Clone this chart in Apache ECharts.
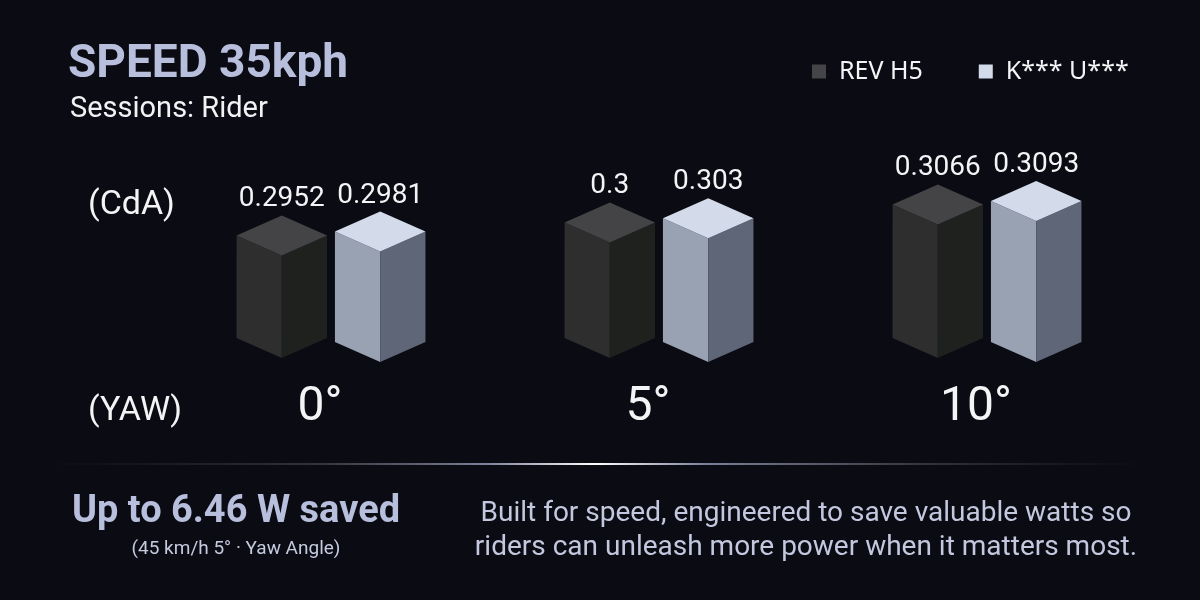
<!DOCTYPE html>
<html lang="en">
<head>
    <meta charset="utf-8">
    <title>SPEED 35kph</title>
    <script src="https://cdn.jsdelivr.net/npm/echarts@6/dist/echarts.min.js"></script>
    <style>
        html, body { margin: 0; padding: 0; background: #0a0b13; }
    </style>
</head>
<body>
<div id="main" style="width: 1200px;height:600px"></div>
<script>
    // data
    var yawLabels = ['0°', '5°', '10°'];
    var seriesNames = ['REV H5', 'K*** U***'];
    var revH5 = [0.2952, 0.3, 0.3066];
    var kU = [0.2981, 0.303, 0.3093];

    var yMin = 0.2575;
    var yMax = 0.32;

    // face colours per series: top, left, right
    var faces = [
        { top: '#444447', left: '#2e2e2f', right: '#1f211f' },
        { top: '#d3dbeb', left: '#99a2b3', right: '#5e6678' }
    ];

    function makeRender(si) {
        return function (params, api) {
            var idx = api.value(0);
            var val = api.value(1);
            var top = api.coord([idx, val]);
            var base = api.coord([idx, yMin]);
            var band = api.size([1, 0])[0];
            var off = band * 0.15;
            var hw = band * 0.138;
            var dy = 20;
            var shift = si === 1 ? 4 : 0;
            var fx = top[0] + (si === 0 ? -off : off);
            var ty = top[1] + shift;
            var by = base[1] + shift;
            var c = faces[si];
            return {
                type: 'group',
                children: [
                    {
                        type: 'polygon',
                        shape: { points: [[fx - hw, ty - dy], [fx, ty], [fx, by], [fx - hw, by - dy]] },
                        style: { fill: c.left }
                    },
                    {
                        type: 'polygon',
                        shape: { points: [[fx, ty], [fx + hw, ty - dy], [fx + hw, by - dy], [fx, by]] },
                        style: { fill: c.right }
                    },
                    {
                        type: 'polygon',
                        shape: { points: [[fx, ty - 2 * dy], [fx + hw, ty - dy], [fx, ty], [fx - hw, ty - dy]] },
                        style: { fill: c.top }
                    },
                    {
                        type: 'text',
                        style: {
                            x: fx,
                            y: ty - 2 * dy - 2,
                            text: String(val),
                            fill: '#f4f4f6',
                            font: '28px Roboto',
                            align: 'center',
                            verticalAlign: 'bottom'
                        }
                    }
                ]
            };
        };
    }

    function toData(arr) {
        return arr.map(function (v, i) { return [i, v]; });
    }

    var chart = echarts.init(document.getElementById('main'));
    var option = {
        backgroundColor: '#0a0b13',
        animation: false,
        title: [
            {
                text: 'SPEED 35kph',
                left: 63,
                top: 37,
                textStyle: { color: '#b8bfdc', fontSize: 46, fontWeight: 'bold', fontFamily: 'Roboto' }
            },
            {
                text: 'Sessions: Rider',
                left: 65,
                top: 90,
                textStyle: { color: '#f2f2f4', fontSize: 29, fontWeight: 'normal', fontFamily: 'Roboto' }
            }
        ],
        legend: {
            data: seriesNames,
            left: 807,
            top: 54,
            icon: 'rect',
            itemWidth: 14,
            itemHeight: 14,
            itemGap: 56,
            textStyle: { color: '#f4f4f6', fontSize: 25, fontFamily: 'Noto Sans', padding: [0, 0, 0, 8] }
        },
        grid: { left: 167, right: 49, top: 188, bottom: 242 },
        xAxis: {
            type: 'category',
            data: yawLabels,
            axisLine: { show: false },
            axisTick: { show: false },
            splitLine: { show: false },
            axisLabel: {
                color: '#f4f4f6',
                fontSize: 48,
                fontFamily: 'Roboto',
                margin: 26,
                padding: [0, 22, 0, 0]
            }
        },
        yAxis: {
            type: 'value',
            min: yMin,
            max: yMax,
            show: false
        },
        graphic: [
            {
                type: 'text', left: 88, top: 188,
                style: { text: '(CdA)', fill: '#f4f4f6', font: '34px Roboto' }
            },
            {
                type: 'text', left: 88, top: 394,
                style: { text: '(YAW)', fill: '#f4f4f6', font: '34px Roboto' }
            },
            {
                type: 'line',
                shape: { x1: 45, y1: 464, x2: 1145, y2: 464 },
                style: {
                    lineWidth: 2,
                    stroke: new echarts.graphic.LinearGradient(0, 0, 1, 0, [
                        { offset: 0, color: 'rgba(40,40,46,0)' },
                        { offset: 0.25, color: '#33343a' },
                        { offset: 0.4, color: '#7a8098' },
                        { offset: 0.5, color: '#ffffff' },
                        { offset: 0.6, color: '#7a8098' },
                        { offset: 0.8, color: '#33343a' },
                        { offset: 1, color: 'rgba(40,40,46,0)' }
                    ])
                }
            },
            {
                type: 'text', x: 236, y: 512,
                style: {
                    text: 'Up to 6.46 W saved', fill: '#b8bfdc', font: 'bold 38px Roboto',
                    align: 'center', verticalAlign: 'middle'
                }
            },
            {
                type: 'text', x: 236, y: 549,
                style: {
                    text: '(45 km/h 5° · Yaw Angle)', fill: '#c5cadf', font: '19px Roboto',
                    align: 'center', verticalAlign: 'middle'
                }
            },
            {
                type: 'text', x: 806, y: 531,
                style: {
                    text: 'Built for speed, engineered to save valuable watts so\nriders can unleash more power when it matters most.',
                    fill: '#c3c8df', font: '28px Roboto', lineHeight: 34,
                    align: 'center', verticalAlign: 'middle'
                }
            }
        ],
        series: [
            {
                name: seriesNames[0],
                type: 'custom',
                itemStyle: { color: '#454547' },
                renderItem: makeRender(0),
                data: toData(revH5)
            },
            {
                name: seriesNames[1],
                type: 'custom',
                itemStyle: { color: '#d3dbeb' },
                renderItem: makeRender(1),
                data: toData(kU)
            }
        ]
    };
    chart.setOption(option);
    window.onresize = chart.resize;
</script>
</body>
</html>
